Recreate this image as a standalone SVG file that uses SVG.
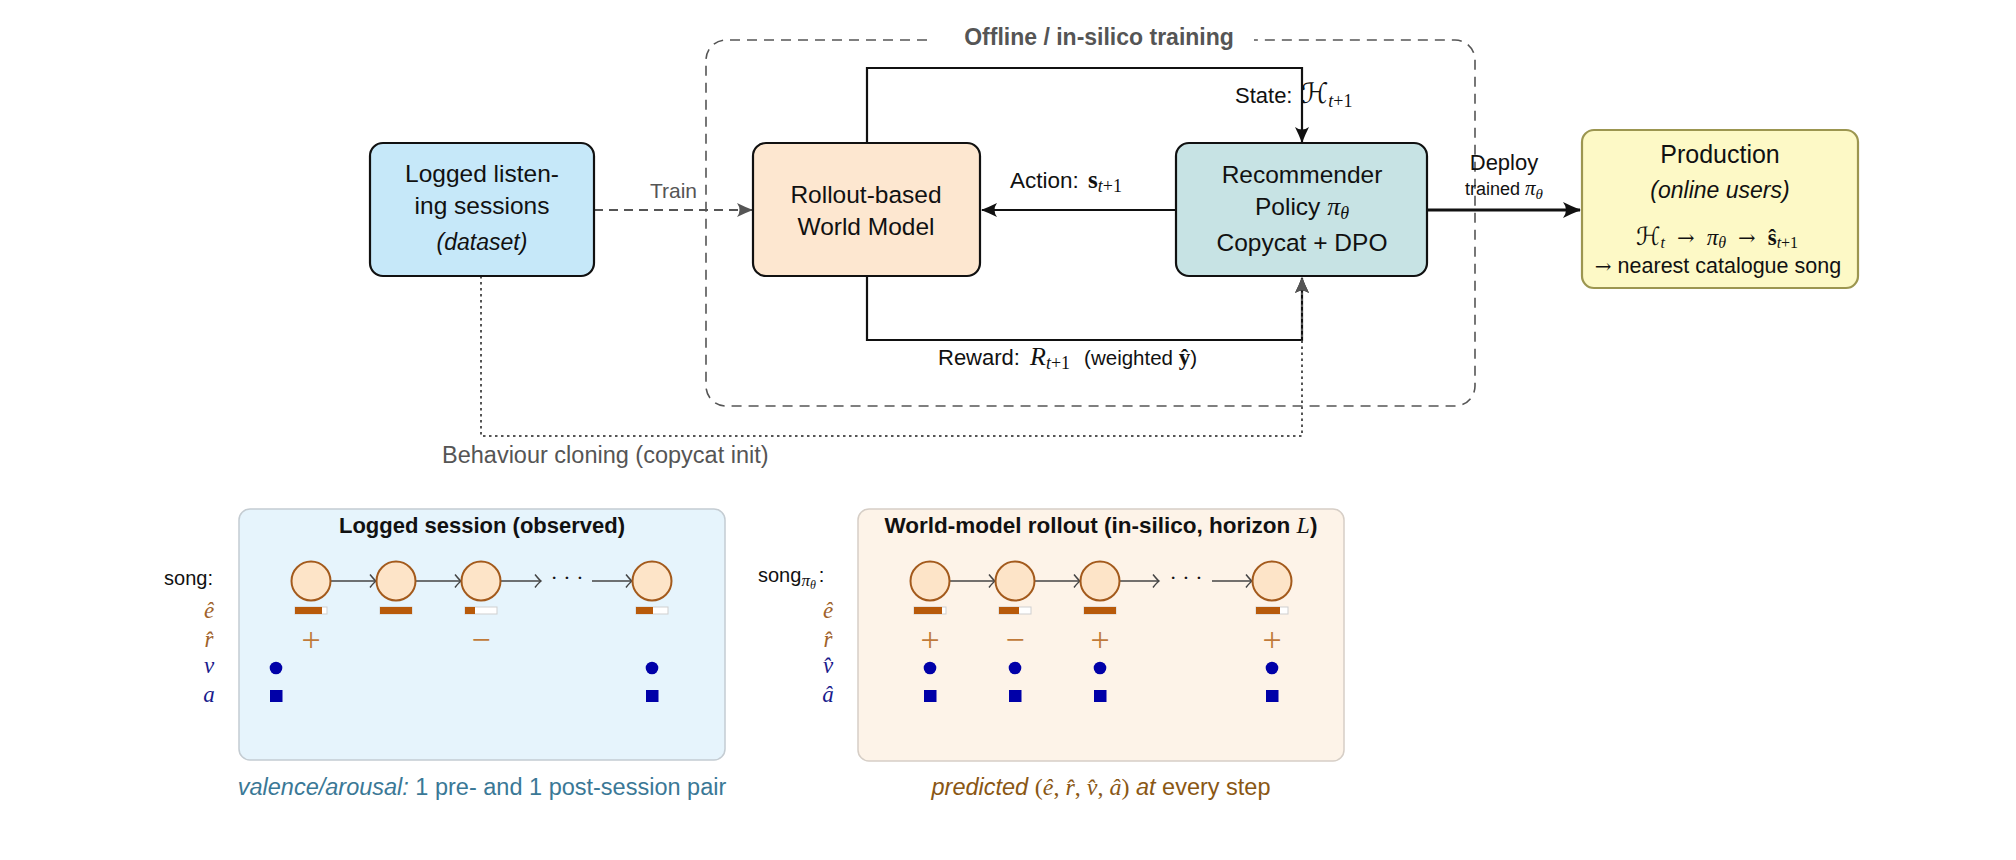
<svg xmlns="http://www.w3.org/2000/svg" width="2016" height="860" viewBox="0 0 2016 860">
<style>
.t{font-family:"Liberation Sans",Arial,sans-serif;fill:#111}
.m{font-family:"Liberation Serif","DejaVu Serif",serif;font-style:italic}
.r{font-family:"Liberation Serif","DejaVu Serif",serif;font-style:normal}
.cal{font-family:"DejaVu Serif","DejaVu Sans",serif;font-style:normal}
.box{stroke:#111;stroke-width:2.2}
.song{fill:#fde4c8;stroke:#a35a1c;stroke-width:2}
.barbg{fill:#fff;stroke:#cfcfcf;stroke-width:1}
.bar{fill:#b85a0a}
.dot{fill:#0000a8}
.sarr{stroke:#444;stroke-width:1.6;fill:none;marker-end:url(#open)}
.rh{font-family:"Liberation Serif",serif;font-size:34px;fill:#c07a3a;text-anchor:middle}
</style>
<defs>
<marker id="ahk" viewBox="0 0 16 14" refX="15" refY="7" markerWidth="16" markerHeight="14" orient="auto" markerUnits="userSpaceOnUse"><path d="M16,7 Q8,4 0,0 Q5,7 0,14 Q8,10 16,7 z" fill="#111"/></marker>
<marker id="ahg" viewBox="0 0 16 14" refX="15" refY="7" markerWidth="16" markerHeight="14" orient="auto" markerUnits="userSpaceOnUse"><path d="M16,7 Q8,4 0,0 Q5,7 0,14 Q8,10 16,7 z" fill="#555"/></marker>
<marker id="ahd" viewBox="0 0 18 16" refX="17" refY="8" markerWidth="18" markerHeight="16" orient="auto" markerUnits="userSpaceOnUse"><path d="M18,8 Q9,4.5 0,0 Q6,8 0,16 Q9,11.5 18,8 z" fill="#111"/></marker>
<marker id="open" viewBox="-8 -8 10 16" refX="0" refY="0" markerWidth="10" markerHeight="16" orient="auto" markerUnits="userSpaceOnUse"><path d="M-6,-6.5 Q-2,-1.5 0,0 Q-2,1.5 -6,6.5" fill="none" stroke="#444" stroke-width="1.5"/></marker>
</defs>
<rect width="2016" height="860" fill="#fff"/>

<g id="offline-region">
<path d="M927,40 L726,40 A20,20 0 0 0 706,60 L706,386 A20,20 0 0 0 726,406 L1455,406 A20,20 0 0 0 1475,386 L1475,60 A20,20 0 0 0 1455,40 L1254,40" fill="none" stroke="#555" stroke-width="1.6" stroke-dasharray="10 7"/>
<text x="1099" y="45" text-anchor="middle" class="t" font-size="23" font-weight="bold" style="fill:#555">Offline / in-silico training</text>
</g>

<g id="connectors">
<!-- Train -->
<line x1="594" y1="210" x2="752" y2="210" stroke="#555" stroke-width="2" stroke-dasharray="9 6" marker-end="url(#ahg)"/>
<text x="697" y="198" text-anchor="end" class="t" font-size="21" style="fill:#555">Train</text>
<!-- Action -->
<line x1="1176" y1="210" x2="982" y2="210" stroke="#111" stroke-width="2.2" marker-end="url(#ahk)"/>
<text x="1010" y="188" class="t" font-size="22.5">Action: <tspan class="r" font-weight="bold" font-size="25" dx="3">s</tspan><tspan class="m" font-size="18" dy="4">t</tspan><tspan class="r" font-size="18">+1</tspan></text>
<!-- State -->
<path d="M867,143 L867,68 L1302,68 L1302,142" fill="none" stroke="#111" stroke-width="2.2" marker-end="url(#ahk)"/>
<text x="1235" y="103" class="t" font-size="22">State: <tspan class="cal" font-size="28" dx="2">ℋ</tspan><tspan class="m" font-size="18" dy="4">t</tspan><tspan class="r" font-size="18">+1</tspan></text>
<!-- Reward -->
<path d="M867,276 L867,340 L1302,340 L1302,278" fill="none" stroke="#111" stroke-width="2.2" marker-end="url(#ahk)"/>
<text x="938" y="365" class="t" font-size="22">Reward: <tspan class="m" font-size="26" dx="4">R</tspan><tspan class="m" font-size="18" dy="4">t</tspan><tspan class="r" font-size="18">+1</tspan><tspan font-size="20.5" dy="-4" dx="14">(weighted </tspan><tspan class="r" font-weight="bold" font-size="23">ŷ</tspan><tspan font-size="20.5">)</tspan></text>
<!-- Behaviour cloning -->
<path d="M481,276 L481,436 L1302,436 L1302,278" fill="none" stroke="#555" stroke-width="2" stroke-dasharray="2.5 3.5" marker-end="url(#ahg)"/>
<text x="442" y="463" class="t" font-size="23.5" style="fill:#555">Behaviour cloning (copycat init)</text>
<!-- Deploy -->
<line x1="1427" y1="210" x2="1580" y2="210" stroke="#111" stroke-width="3" marker-end="url(#ahd)"/>
<text x="1504" y="170" text-anchor="middle" class="t" font-size="22">Deploy</text>
<text x="1504" y="195" text-anchor="middle" class="t" font-size="18">trained <tspan class="m" font-size="21">π</tspan><tspan class="m" font-size="15" dy="4">θ</tspan></text>
</g>

<g id="logged-sessions">
<rect x="370" y="143" width="224" height="133" rx="13" fill="#c6e8f9" class="box"/>
<text x="482" y="182" text-anchor="middle" class="t" font-size="24.5">Logged listen-</text>
<text x="482" y="214" text-anchor="middle" class="t" font-size="24.5">ing sessions</text>
<text x="482" y="250" text-anchor="middle" class="t" font-size="23" font-style="italic">(dataset)</text>
</g>

<g id="world-model">
<rect x="753" y="143" width="227" height="133" rx="13" fill="#fde7d0" class="box"/>
<text x="866" y="203" text-anchor="middle" class="t" font-size="24.5">Rollout-based</text>
<text x="866" y="235" text-anchor="middle" class="t" font-size="24.5">World Model</text>
</g>

<g id="recommender">
<rect x="1176" y="143" width="251" height="133" rx="13" fill="#c7e3e4" class="box"/>
<text x="1302" y="183" text-anchor="middle" class="t" font-size="24.5">Recommender</text>
<text x="1302" y="215" text-anchor="middle" class="t" font-size="24.5">Policy <tspan class="m" font-size="26">π</tspan><tspan class="m" font-size="18" dy="4">θ</tspan></text>
<text x="1302" y="251" text-anchor="middle" class="t" font-size="24.5">Copycat + DPO</text>
</g>

<g id="production">
<rect x="1582" y="130" width="276" height="158" rx="12" fill="#fdf9c6" stroke="#9c9650" stroke-width="2.2"/>
<text x="1720" y="163" text-anchor="middle" class="t" font-size="25">Production</text>
<text x="1720" y="198" text-anchor="middle" class="t" font-size="23" font-style="italic">(online users)</text>
<text x="1717" y="245" text-anchor="middle" class="t" font-size="21"><tspan class="cal" font-size="25">ℋ</tspan><tspan class="m" font-size="16" dy="3">t</tspan><tspan class="cal" dy="-3" dx="12" font-size="21">→</tspan><tspan class="m" dx="12" font-size="23">π</tspan><tspan class="m" font-size="16" dy="3">θ</tspan><tspan class="cal" dy="-3" dx="12" font-size="21">→</tspan><tspan class="r" font-weight="bold" dx="12" font-size="23">ŝ</tspan><tspan class="m" font-size="16" dy="3">t</tspan><tspan class="r" font-size="16">+1</tspan></text>
<text x="1718" y="273" text-anchor="middle" class="t" font-size="21.5"><tspan class="cal" font-size="20">→</tspan> nearest catalogue song</text>
</g>

<g id="logged-session-panel">
<rect x="239" y="509" width="486" height="251" rx="11" fill="#e6f4fc" stroke="#c4ccd2" stroke-width="1.5"/>
<text x="482" y="533" text-anchor="middle" class="t" font-size="22" font-weight="bold">Logged session (observed)</text>
<text x="213" y="585" text-anchor="end" class="t" font-size="20">song:</text>
<text x="209" y="618" text-anchor="middle" class="m" font-size="23" fill="#a0622a">ê</text>
<text x="209" y="647" text-anchor="middle" class="m" font-size="23" fill="#a0622a">r̂</text>
<text x="209" y="673" text-anchor="middle" class="m" font-size="23" fill="#1a1a8c">v</text>
<text x="209" y="702" text-anchor="middle" class="m" font-size="23" fill="#1a1a8c">a</text>
<line x1="331" y1="581" x2="376" y2="581" class="sarr"/>
<line x1="416" y1="581" x2="461" y2="581" class="sarr"/>
<line x1="501" y1="581" x2="541" y2="581" class="sarr"/>
<text x="567" y="585" text-anchor="middle" class="r" font-size="22" fill="#111">· · ·</text>
<line x1="592" y1="581" x2="632" y2="581" class="sarr"/>
<ellipse cx="311" cy="581" rx="19.5" ry="19.5" class="song"/>
<ellipse cx="396" cy="581" rx="19.5" ry="19.5" class="song"/>
<ellipse cx="481" cy="581" rx="19.5" ry="19.5" class="song"/>
<ellipse cx="652" cy="581" rx="19.5" ry="19.5" class="song"/>
<rect x="295" y="607" width="32" height="7" class="barbg"/><rect x="295" y="607" width="27" height="7" class="bar"/>
<rect x="380" y="607" width="32" height="7" class="barbg"/><rect x="380" y="607" width="32" height="7" class="bar"/>
<rect x="465" y="607" width="32" height="7" class="barbg"/><rect x="465" y="607" width="10" height="7" class="bar"/>
<rect x="636" y="607" width="32" height="7" class="barbg"/><rect x="636" y="607" width="17" height="7" class="bar"/>
<text x="311" y="651" class="rh">+</text>
<text x="481" y="651" class="rh">−</text>
<circle cx="276" cy="668" r="6.3" class="dot"/>
<circle cx="652" cy="668" r="6.3" class="dot"/>
<rect x="270" y="690" width="12.5" height="12" class="dot"/>
<rect x="646" y="690" width="12.5" height="12" class="dot"/>
<text x="482" y="795" text-anchor="middle" class="t" font-size="23.5" style="fill:#3a7896"><tspan font-style="italic">valence/arousal:</tspan> 1 pre- and 1 post-session pair</text>
</g>

<g id="rollout-panel">
<rect x="858" y="509" width="486" height="252" rx="11" fill="#fdf3e8" stroke="#d6cec6" stroke-width="1.5"/>
<text x="1101" y="533" text-anchor="middle" class="t" font-size="22.5" font-weight="bold">World-model rollout (in-silico, horizon <tspan class="m" font-weight="normal" font-size="24">L</tspan>)</text>
<text x="758" y="582" class="t" font-size="20">song<tspan class="m" font-size="17" dy="4">π</tspan><tspan class="m" font-size="12" dy="3">θ</tspan><tspan dy="-7" dx="3">:</tspan></text>
<text x="828" y="618" text-anchor="middle" class="m" font-size="23" fill="#a0622a">ê</text>
<text x="828" y="647" text-anchor="middle" class="m" font-size="23" fill="#a0622a">r̂</text>
<text x="828" y="673" text-anchor="middle" class="m" font-size="23" fill="#1a1a8c">v̂</text>
<text x="828" y="702" text-anchor="middle" class="m" font-size="23" fill="#1a1a8c">â</text>
<line x1="950" y1="581" x2="995" y2="581" class="sarr"/>
<line x1="1035" y1="581" x2="1080" y2="581" class="sarr"/>
<line x1="1120" y1="581" x2="1159" y2="581" class="sarr"/>
<text x="1186" y="585" text-anchor="middle" class="r" font-size="22" fill="#111">· · ·</text>
<line x1="1212" y1="581" x2="1252" y2="581" class="sarr"/>
<ellipse cx="930" cy="581" rx="19.5" ry="19.5" class="song"/>
<ellipse cx="1015" cy="581" rx="19.5" ry="19.5" class="song"/>
<ellipse cx="1100" cy="581" rx="19.5" ry="19.5" class="song"/>
<ellipse cx="1272" cy="581" rx="19.5" ry="19.5" class="song"/>
<rect x="914" y="607" width="32" height="7" class="barbg"/><rect x="914" y="607" width="28" height="7" class="bar"/>
<rect x="999" y="607" width="32" height="7" class="barbg"/><rect x="999" y="607" width="20" height="7" class="bar"/>
<rect x="1084" y="607" width="32" height="7" class="barbg"/><rect x="1084" y="607" width="32" height="7" class="bar"/>
<rect x="1256" y="607" width="32" height="7" class="barbg"/><rect x="1256" y="607" width="24" height="7" class="bar"/>
<text x="930" y="651" class="rh">+</text>
<text x="1015" y="651" class="rh">−</text>
<text x="1100" y="651" class="rh">+</text>
<text x="1272" y="651" class="rh">+</text>
<circle cx="930" cy="668" r="6.3" class="dot"/>
<circle cx="1015" cy="668" r="6.3" class="dot"/>
<circle cx="1100" cy="668" r="6.3" class="dot"/>
<circle cx="1272" cy="668" r="6.3" class="dot"/>
<rect x="924" y="690" width="12.5" height="12" class="dot"/>
<rect x="1009" y="690" width="12.5" height="12" class="dot"/>
<rect x="1094" y="690" width="12.5" height="12" class="dot"/>
<rect x="1266" y="690" width="12.5" height="12" class="dot"/>
<text x="1101" y="795" text-anchor="middle" class="t" font-size="23.5" style="fill:#8a5714"><tspan font-style="italic">predicted</tspan> <tspan class="r" font-size="24">(</tspan><tspan class="m" font-size="24">ê</tspan><tspan class="r" font-size="24">, </tspan><tspan class="m" font-size="24">r̂</tspan><tspan class="r" font-size="24">, </tspan><tspan class="m" font-size="24">v̂</tspan><tspan class="r" font-size="24">, </tspan><tspan class="m" font-size="24">â</tspan><tspan class="r" font-size="24">)</tspan> <tspan font-style="italic">at</tspan> every step</text>
</g>
</svg>
